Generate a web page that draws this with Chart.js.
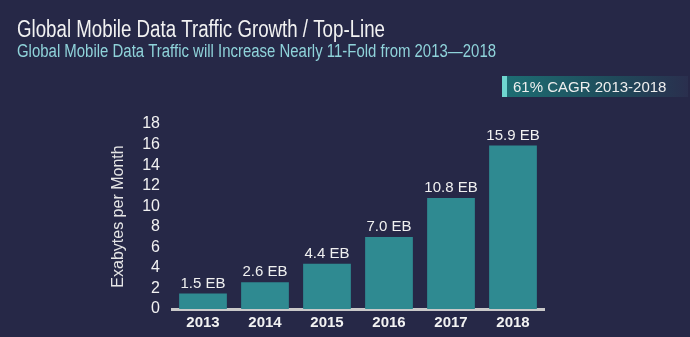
<!DOCTYPE html>
<html><head><meta charset="utf-8">
<script src="https://cdn.jsdelivr.net/npm/chart.js@4"></script>
<style>html,body{margin:0;padding:0;background:#262847;}#wrap{width:690px;height:337px;position:relative;}</style>
</head><body><div id="wrap"><canvas id="c" width="690" height="337"></canvas></div>
<script>
const years = ['2013','2014','2015','2016','2017','2018'];
const traffic = [1.5, 2.6, 4.4, 7.0, 10.8, 15.9];
const valueLabels = ['1.5 EB','2.6 EB','4.4 EB','7.0 EB','10.8 EB','15.9 EB'];
const yTicks = [0,2,4,6,8,10,12,14,16,18];
const titleText = 'Global Mobile Data Traffic Growth / Top-Line';
const subtitleText = 'Global Mobile Data Traffic will Increase Nearly 11-Fold from 2013\u20142018';
const cagrText = '61% CAGR 2013-2018';
const yTitle = 'Exabytes per Month';

const deco = {
  id:'deco',
  beforeDraw(chart){
    const ctx = chart.ctx;
    ctx.save();
    ctx.fillStyle = '#262847';
    ctx.fillRect(0,0,chart.width,chart.height);
    ctx.restore();
  },
  afterDraw(chart){
    const ctx = chart.ctx;
    ctx.save();
    ctx.textBaseline = 'alphabetic';
    ctx.textAlign = 'left';
    ctx.fillStyle = '#f2f2f2';
    ctx.font = '300 23px "Liberation Sans Narrow", "Liberation Sans", sans-serif';
    ctx.fillText(titleText, 17, 37, 368);
    ctx.fillStyle = '#8fd3da';
    ctx.font = '18px "Liberation Sans Narrow", "Liberation Sans", sans-serif';
    ctx.fillText(subtitleText, 17, 57, 479);
    // CAGR box
    const g = ctx.createLinearGradient(502,0,688,0);
    g.addColorStop(0,'#1d6f74');
    g.addColorStop(0.6,'#1f4a5a');
    g.addColorStop(1,'#2a2f4e');
    ctx.fillStyle = g;
    ctx.fillRect(502,76,186,21);
    ctx.fillStyle = '#6fd6d0';
    ctx.fillRect(502,76,5,21);
    ctx.fillStyle = '#eeeeee';
    ctx.font = '15px "Liberation Sans", sans-serif';
    ctx.fillText(cagrText, 513, 92, 167);
    // value labels
    const meta = chart.getDatasetMeta(0);
    ctx.textAlign = 'center';
    ctx.font = '15px "Liberation Sans", sans-serif';
    ctx.fillStyle = '#f0f0f0';
    meta.data.forEach((bar,i)=>{
      ctx.fillText(valueLabels[i], bar.x, bar.y - 6);
    });
    ctx.restore();
  }
};

new Chart(document.getElementById('c'), {
  type:'bar',
  data:{labels:years, datasets:[{data:traffic, backgroundColor:'#2f8a91', borderWidth:0, barPercentage:0.77, categoryPercentage:1}]},
  options:{
    responsive:false, animation:false, devicePixelRatio:1,
    layout:{padding:{left:109, right:146, top:124, bottom:0}},
    plugins:{legend:{display:false}, tooltip:{enabled:false}, title:{display:false}},
    scales:{
      x:{
        grid:{display:false, drawTicks:false},
        border:{display:true, color:'#c9c9c9', width:3},
        ticks:{color:'#f2f2f2', font:{family:'"Liberation Sans", sans-serif', size:15, weight:'bold'}, padding:5},
        afterFit(s){ s.height = 28; }
      },
      y:{
        min:0, max:18,
        afterBuildTicks(s){ s.ticks = yTicks.map(v=>({value:v})); },
        grid:{display:false, drawTicks:false},
        border:{display:false},
        ticks:{color:'#f2f2f2', autoSkip:false, font:{family:'"Liberation Sans", sans-serif', size:16}, padding:12},
        title:{display:true, text:yTitle, color:'#e6e6e6', font:{family:'"Liberation Sans", sans-serif', size:16}, padding:{top:0,bottom:2}},
        afterFit(s){ s.width = 63; }
      }
    }
  },
  plugins:[deco]
});
</script></body></html>
